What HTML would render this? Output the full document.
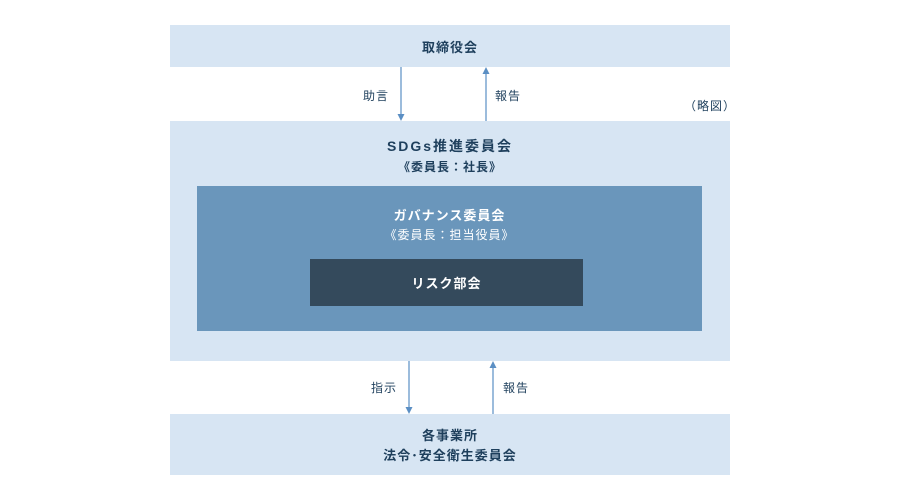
<!DOCTYPE html>
<html><head><meta charset="utf-8"><style>
body{margin:0;width:900px;height:500px;background:#fff;font-family:"Liberation Sans","Noto Sans CJK JP",sans-serif;position:relative;overflow:hidden}
.b{position:absolute;box-sizing:border-box}
.t{position:absolute;text-align:center;font-weight:bold;font-size:13px;color:#1e3f5c;letter-spacing:1px}
.s{position:absolute;font-size:12px;color:#1e3f5c;letter-spacing:1px}
</style></head><body>
<div class="b" style="left:170px;top:25px;width:560px;height:42px;background:#d7e5f3"></div>
<div class="t" style="left:170px;top:37px;width:560px">取締役会</div>
<div class="b" style="left:170px;top:121px;width:560px;height:240px;background:#d7e5f3"></div>
<div class="t" style="left:170px;top:136px;width:560px;font-size:14px;letter-spacing:2px">SDGs推進委員会</div>
<div class="t" style="left:170px;top:158px;width:560px;font-size:12px;font-weight:bold">《委員長：社長》</div>
<div class="b" style="left:197px;top:186px;width:505px;height:145px;background:#6a96bb"></div>
<div class="t" style="left:197px;top:205px;width:505px;color:#fff">ガバナンス委員会</div>
<div class="t" style="left:197px;top:226px;width:505px;color:#fff;font-size:12px;font-weight:normal">《委員長：担当役員》</div>
<div class="b" style="left:310px;top:259px;width:273px;height:47px;background:#344a5c"></div>
<div class="t" style="left:310px;top:273px;width:273px;color:#fff">リスク部会</div>
<div class="b" style="left:170px;top:414px;width:560px;height:61px;background:#d7e5f3"></div>
<div class="t" style="left:170px;top:425px;width:560px">各事業所</div>
<div class="t" style="left:170px;top:445px;width:560px">法令･安全衛生委員会</div>
<div class="s" style="left:363px;top:87px">助言</div>
<div class="s" style="left:495px;top:87px">報告</div>
<div class="s" style="left:684px;top:97px">（略図）</div>
<div class="s" style="left:371px;top:379px">指示</div>
<div class="s" style="left:503px;top:379px">報告</div>
<svg width="900" height="500" style="position:absolute;left:0;top:0">
<g stroke="#5b8fc4" stroke-width="1.2" fill="#5b8fc4">
<line x1="401" y1="67" x2="401" y2="117"/><polygon points="397.5,114 404.5,114 401,121" stroke="none"/>
<line x1="486" y1="71" x2="486" y2="121"/><polygon points="482.5,74 489.5,74 486,67" stroke="none"/>
<line x1="409" y1="361" x2="409" y2="410"/><polygon points="405.5,407 412.5,407 409,414" stroke="none"/>
<line x1="493" y1="365" x2="493" y2="414"/><polygon points="489.5,368 496.5,368 493,361" stroke="none"/>
</g></svg>
</body></html>
